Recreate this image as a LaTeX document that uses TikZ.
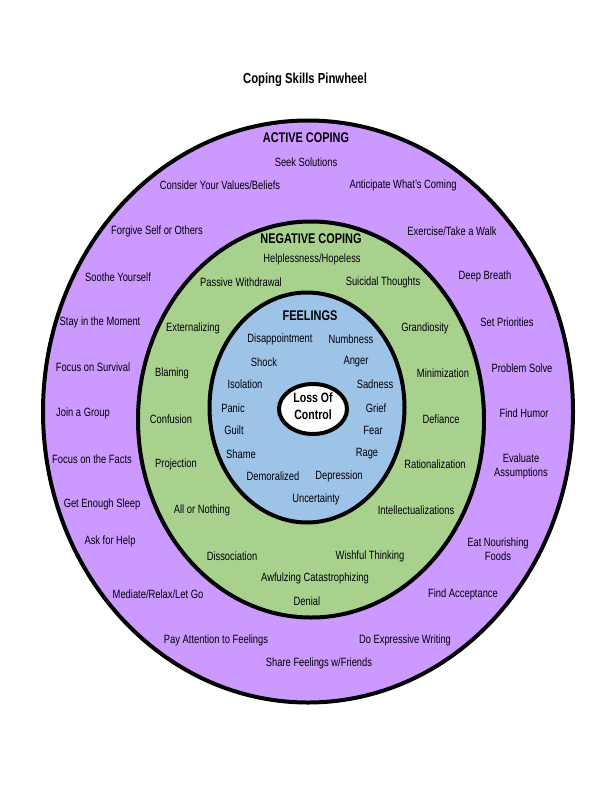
\documentclass[tikz,border=0pt]{standalone}
\usepackage{fontspec}
\setmainfont{Liberation Sans}[FakeStretch=0.78]
\definecolor{ringpurple}{RGB}{204,153,255}
\definecolor{ringgreen}{RGB}{169,209,142}
\definecolor{ringblue}{RGB}{157,195,230}
\definecolor{inkc}{RGB}{0,0,10}
\tikzset{
  ring/.style={draw=black,line width=4pt},
  lab/.style={font=\fontsize{12}{14}\selectfont,text=inkc,inner sep=0pt,align=center},
  head/.style={font=\fontsize{14}{16}\selectfont\bfseries,text=black,inner sep=0pt,align=center},
}
\begin{document}
\begin{tikzpicture}[x=1pt,y=-1pt]
\useasboundingbox (0,0) rectangle (612,792);
\fill[white] (0,0) rectangle (612,792);
% rings
\filldraw[ring,fill=ringpurple] (308,411.5) ellipse [x radius=265,y radius=291];
\filldraw[ring,fill=ringgreen] (311,419.5) ellipse [x radius=173,y radius=198];
\filldraw[ring,fill=ringblue] (307,407.5) ellipse [x radius=97.5,y radius=115];
\filldraw[ring,fill=white] (313,409) ellipse [x radius=34,y radius=25];
% title
\node[head,font=\fontsize{14.5}{16}\selectfont\bfseries] (title) at (305,80) {Coping Skills Pinwheel};
% active coping
\node[head] (act) at (306,138) {ACTIVE COPING};
\node[lab] (a1) at (306,162) {Seek Solutions};
\node[lab] (a2) at (220,185) {Consider Your Values/Beliefs};
\node[lab] (a3) at (403,185) {Anticipate What’s Coming};
\node[lab] (a4) at (157,231) {Forgive Self or Others};
\node[lab] (a5) at (452,231) {Exercise/Take a Walk};
\node[lab] (a6) at (118,277) {Soothe Yourself};
\node[lab] (a7) at (485,276) {Deep Breath};
\node[lab] (a8) at (100,322) {Stay in the Moment};
\node[lab] (a9) at (507,322) {Set Priorities};
\node[lab] (a10) at (93,367) {Focus on Survival};
\node[lab] (a11) at (522,368) {Problem Solve};
\node[lab] (a12) at (83,413) {Join a Group};
\node[lab] (a13) at (524,413) {Find Humor};
\node[lab] (a14) at (92,459) {Focus on the Facts};
\node[lab] (a15) at (521,466.5) {Evaluate\\Assumptions};
\node[lab] (a16) at (102,504) {Get Enough Sleep};
\node[lab] (a17) at (110,541) {Ask for Help};
\node[lab] (a18) at (498,549) {Eat Nourishing\\Foods};
\node[lab] (a19) at (158,594) {Mediate/Relax/Let Go};
\node[lab] (a20) at (463,594) {Find Acceptance};
\node[lab] (a21) at (216,640) {Pay Attention to Feelings};
\node[lab] (a22) at (405,640) {Do Expressive Writing};
\node[lab] (a23) at (319,663) {Share Feelings w/Friends};
% negative coping
\node[head] (neg) at (311,239) {NEGATIVE COPING};
\node[lab] (n1) at (312,259) {Helplessness/Hopeless};
\node[lab] (n2) at (241,282) {Passive Withdrawal};
\node[lab] (n3) at (383,282) {Suicidal Thoughts};
\node[lab] (n4) at (193,328) {Externalizing};
\node[lab] (n5) at (425,328) {Grandiosity};
\node[lab] (n6) at (172,373) {Blaming};
\node[lab] (n7) at (443,373) {Minimization};
\node[lab] (n8) at (171,419) {Confusion};
\node[lab] (n9) at (441,419) {Defiance};
\node[lab] (n10) at (176,464) {Projection};
\node[lab] (n11) at (435,464) {Rationalization};
\node[lab] (n12) at (202,510) {All or Nothing};
\node[lab] (n13) at (416,510) {Intellectualizations};
\node[lab] (n14) at (232,556) {Dissociation};
\node[lab] (n15) at (370,556) {Wishful Thinking};
\node[lab] (n16) at (315,578) {Awfulzing Catastrophizing};
\node[lab] (n17) at (307,601) {Denial};
% feelings
\node[head] (feel) at (310,316) {FEELINGS};
\node[lab] (f1) at (280,339) {Disappointment};
\node[lab] (f2) at (351,339) {Numbness};
\node[lab] (f3) at (264,362) {Shock};
\node[lab] (f4) at (356,362) {Anger};
\node[lab] (f5) at (245,384) {Isolation};
\node[lab] (f6) at (375,384) {Sadness};
\node[lab] (f7) at (233,408) {Panic};
\node[lab] (f8) at (376,408) {Grief};
\node[lab] (f9) at (234,430) {Guilt};
\node[lab] (f10) at (373,430) {Fear};
\node[lab] (f11) at (241,454) {Shame};
\node[lab] (f12) at (367,454) {Rage};
\node[lab] (f13) at (273,476) {Demoralized};
\node[lab] (f14) at (339,476) {Depression};
\node[lab] (f15) at (316,499) {Uncertainty};
% center
\node[head,font=\fontsize{13.5}{17}\selectfont\bfseries] (loc) at (313,406.5) {Loss Of\\Control};
\end{tikzpicture}
\end{document}
